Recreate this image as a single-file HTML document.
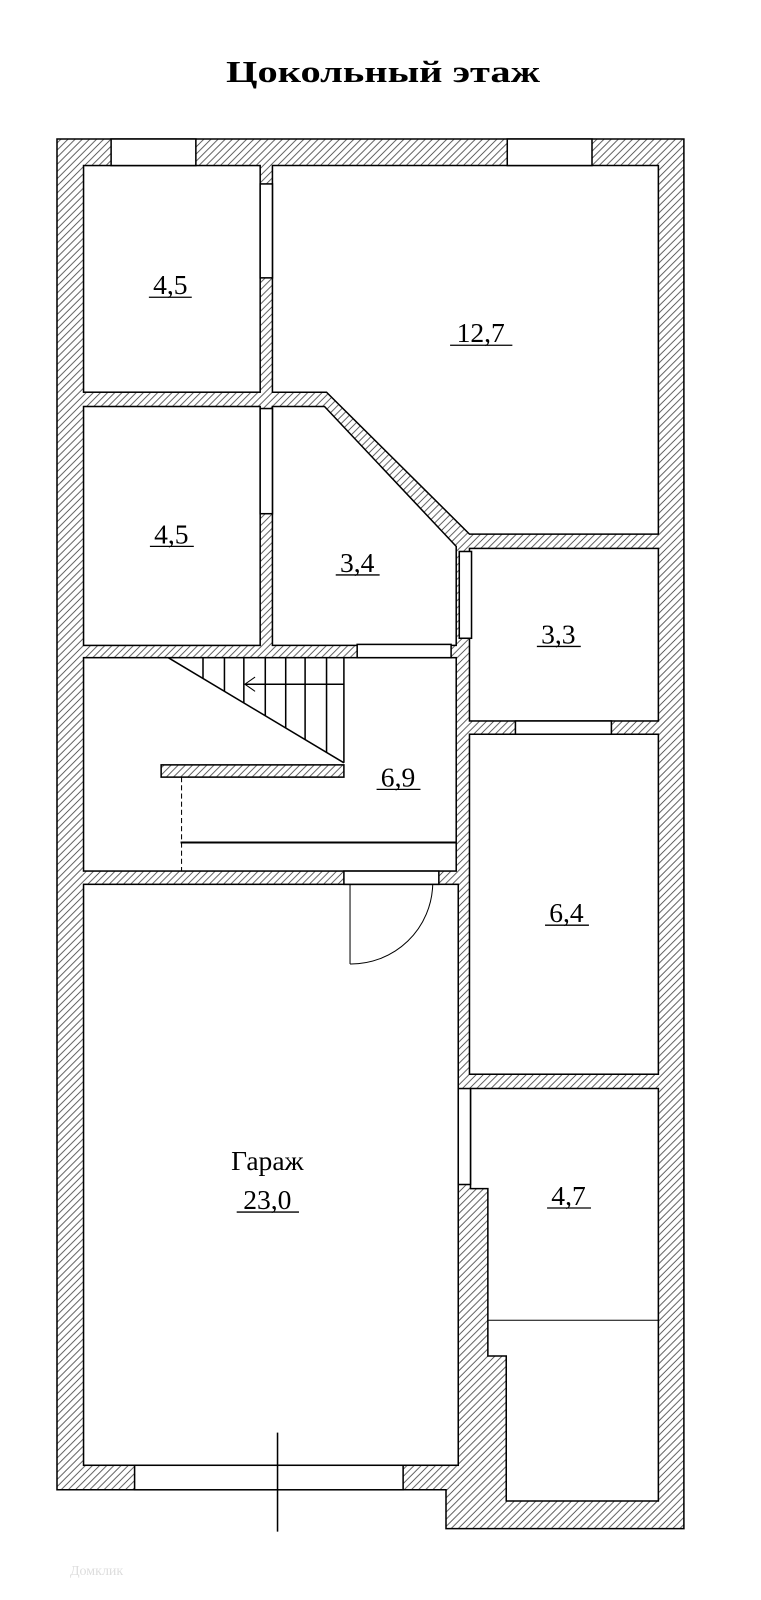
<!DOCTYPE html>
<html><head><meta charset="utf-8"><style>
html,body{margin:0;padding:0;background:#fff;}
svg{display:block;}
text{font-family:"Liberation Serif",serif;}
</style></head><body>
<svg width="761" height="1600" viewBox="0 0 761 1600" xmlns="http://www.w3.org/2000/svg">
<defs>
<pattern id="h" patternUnits="userSpaceOnUse" width="7" height="7">
<rect width="7" height="7" fill="#fff"/>
<path d="M-1,8 L8,-1 M-1,1 L1,-1 M6,8 L8,6" stroke="#444" stroke-width="0.8"/>
</pattern>
</defs>
<text x="383" y="82" font-size="31" font-weight="bold" text-anchor="middle" textLength="314" lengthAdjust="spacingAndGlyphs">Цокольный этаж</text>

<g transform="translate(57,139) scale(1.021) translate(-56,-136)">
<g stroke="#000" stroke-width="1.5">
<path d="M56,136 L670,136 L670,1497 L437,1497 L437,1459 L56,1459 Z" fill="url(#h)"/>
<g fill="#fff">
<rect x="82" y="162" width="173" height="222"/>
<path d="M267,162 L645,162 L645,523 L460,523 L320,384 L267,384 Z"/>
<rect x="82" y="398" width="173" height="234"/>
<path d="M267,398 L318,398 L447,535 L447,632 L267,632 Z"/>
<rect x="460" y="537" width="185" height="169"/>
<rect x="82" y="644" width="365" height="209"/>
<rect x="460" y="719" width="185" height="333"/>
<rect x="82" y="866" width="367" height="569"/>
<path d="M461,1066 L645,1066 L645,1470 L496,1470 L496,1328 L478,1328 L478,1164 L461,1164 Z"/>
<rect x="109" y="136" width="83" height="26"/>
<rect x="497" y="136" width="83" height="26"/>
<rect x="255" y="180" width="12" height="92"/>
<rect x="255" y="400" width="12" height="103"/>
<rect x="450" y="540" width="12" height="85"/>
<rect x="350" y="631" width="92" height="13"/>
<rect x="505" y="706" width="94" height="13"/>
<rect x="337" y="853" width="93" height="13"/>
<rect x="449" y="1066" width="12" height="94"/>
<rect x="132" y="1435" width="263" height="24"/>
</g>
<rect x="158" y="749" width="179" height="12" fill="url(#h)"/>
</g>

<g stroke="#000" stroke-width="1.5" fill="none">
<line x1="165" y1="644" x2="337" y2="747"/>
<line x1="199" y1="664" x2="199" y2="644"/>
<line x1="220" y1="677" x2="220" y2="644"/>
<line x1="239" y1="688" x2="239" y2="644"/>
<line x1="260" y1="701" x2="260" y2="644"/>
<line x1="280" y1="713" x2="280" y2="644"/>
<line x1="299" y1="724" x2="299" y2="644"/>
<line x1="320" y1="737" x2="320" y2="644"/>
<line x1="337" y1="747" x2="337" y2="644"/>
<line x1="240" y1="670" x2="337" y2="670"/>
<path d="M250,663 L240,670 L250,677" stroke-width="1"/>
<line x1="178" y1="761" x2="178" y2="853" stroke-width="1" stroke-dasharray="5,3"/>
<line x1="177" y1="825" x2="447" y2="825" stroke-width="2"/>
<line x1="343" y1="866" x2="343" y2="944" stroke-width="1"/>
<path d="M343,944 A80,80 0 0 0 424,866" stroke-width="1"/>
<line x1="478" y1="1293" x2="645" y2="1293" stroke-width="1"/>
<line x1="272" y1="1403" x2="272" y2="1500" stroke-width="1.5"/>
</g>

<g font-size="27" text-anchor="middle" fill="#000">
<text x="167" y="288">4,5</text>
<text x="471" y="335">12,7</text>
<text x="168" y="532">4,5</text>
<text x="350" y="560">3,4</text>
<text x="547" y="630">3,3</text>
<text x="390" y="770">6,9</text>
<text x="555" y="903">6,4</text>
<text x="262" y="1146">Гараж</text>
<text x="262" y="1184">23,0</text>
<text x="557" y="1180">4,7</text>
</g>
<g stroke="#000" stroke-width="1.3">
<line x1="146" y1="291" x2="188" y2="291"/>
<line x1="441" y1="338" x2="502" y2="338"/>
<line x1="147" y1="535" x2="190" y2="535"/>
<line x1="329" y1="563" x2="372" y2="563"/>
<line x1="526" y1="633" x2="569" y2="633"/>
<line x1="369" y1="773" x2="412" y2="773"/>
<line x1="534" y1="906" x2="577" y2="906"/>
<line x1="232" y1="1187" x2="293" y2="1187"/>
<line x1="536" y1="1183" x2="579" y2="1183"/>
</g>
</g>
<text x="70" y="1575" font-size="14" fill="#ddd" font-family="Liberation Sans, sans-serif">Домклик</text>
</svg>
</body></html>
